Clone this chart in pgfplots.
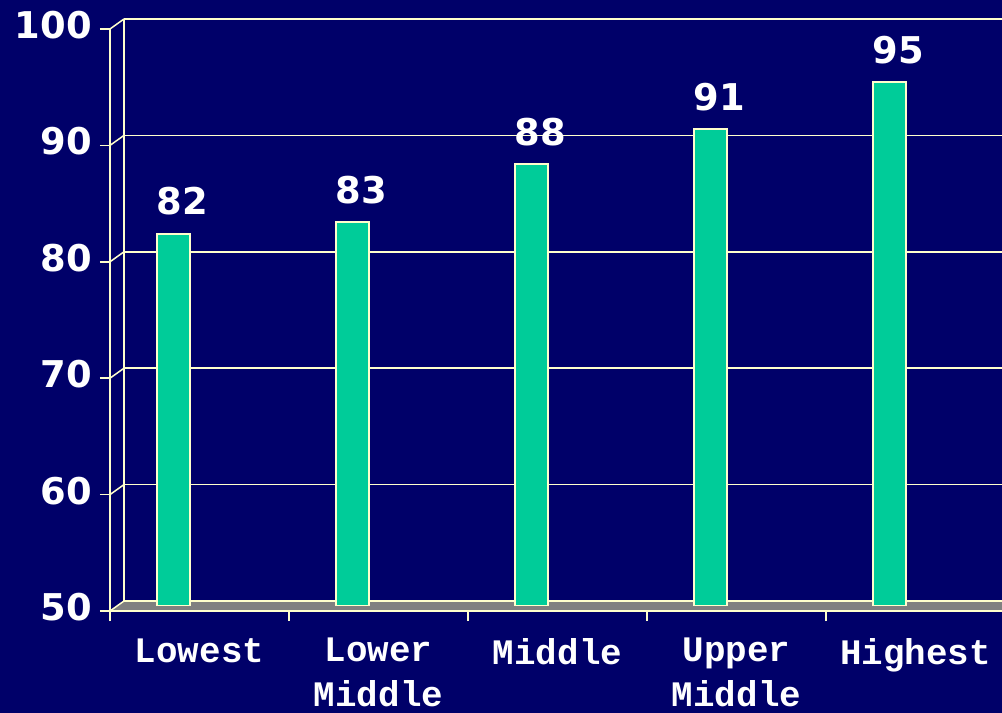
\documentclass[border=0pt]{standalone}
\usepackage{fontspec}
\setmainfont{DejaVu Sans}
\newfontfamily\monofam{Liberation Mono}
\usepackage{pgfplots}
\usepackage{pgfplotstable}
\pgfplotsset{compat=1.18}

\definecolor{bgnavy}{RGB}{0,0,105}
\definecolor{edgeyellow}{RGB}{255,255,204}
\definecolor{bargreen}{RGB}{0,204,153}
\definecolor{floorgray}{RGB}{128,128,128}

% score by income group
\pgfplotstableread{
cat score
0 82
1 83
2 88
3 91
4 95
}\scores

\pgfplotsset{
  /pgf/number format/assume math mode=true,
  planes/.style={
    x=179bp, y=11.64bp,
    xmin=-0.5, ymin=50, ymax=100,
    anchor=south west,
  },
}

\begin{document}
\begin{tikzpicture}
\path[use as bounding box, fill=bgnavy] (0,0) rectangle (1002bp,713bp);
\clip (0,0) rectangle (1002bp,713bp);

% floor of the 3-D box
\fill[floorgray] (110bp,102bp) -- (1002bp,102bp) -- (1002bp,112bp) -- (124bp,112bp) -- cycle;

% back wall with its grid
\begin{axis}[planes, at={(124bp,112bp)}, xmax=4.41,
  axis x line=none, axis y line*=left,
  axis line style={draw=edgeyellow, line width=1.5bp},
  xtick=\empty, ytick={50,60,...,100}, yticklabels={},
  major tick length=0pt,
  ymajorgrids, grid style={draw=edgeyellow, line width=1.5bp}]
\end{axis}

% front frame with ticks and labels
\begin{axis}[planes, at={(110bp,102bp)}, xmax=4.483, clip=false,
  axis lines*=left,
  axis line style={draw=edgeyellow, line width=1.5bp},
  tick style={draw=edgeyellow, line width=1.5bp},
  tick align=outside,
  major tick length=10bp, minor tick length=10bp,
  ytick={50,60,...,100},
  xtick={0,...,4},
  xticklabels={Lowest,{Lower\\Middle},Middle,{Upper\\Middle},Highest},
  minor xtick={-0.5,0.5,...,3.5},
  major x tick style={draw=none},
  yticklabel style={font=\fontsize{37}{37}\selectfont\bfseries, text=white,
    anchor=east, inner sep=0pt, xshift=-8bp, yshift=4bp},
  xticklabel style={font=\monofam\bfseries\fontsize{36}{45}\selectfont, text=white,
    align=center, anchor=north, inner sep=0pt, yshift=-17bp}]
\pgfplotsinvokeforeach{50,60,70,80,90,100}{
  \draw[edgeyellow, line width=1.5bp] (axis cs:-0.5,#1) -- ++(14bp,10bp);
}
\end{axis}

% bars, standing halfway between the front and the back plane
\begin{axis}[planes, at={(117bp,107bp)}, xmax=4.44, hide axis]
\addplot[ybar, bar width=33bp, bar shift=-33.5bp,
  fill=bargreen, draw=edgeyellow, line width=2bp,
  nodes near coords,
  nodes near coords style={font=\fontsize{37}{37}\selectfont\bfseries,
    text=white, anchor=south, inner sep=0pt, yshift=17bp, xshift=-24.5bp}]
  table[x=cat, y=score] {\scores};
\end{axis}
\end{tikzpicture}
\end{document}
